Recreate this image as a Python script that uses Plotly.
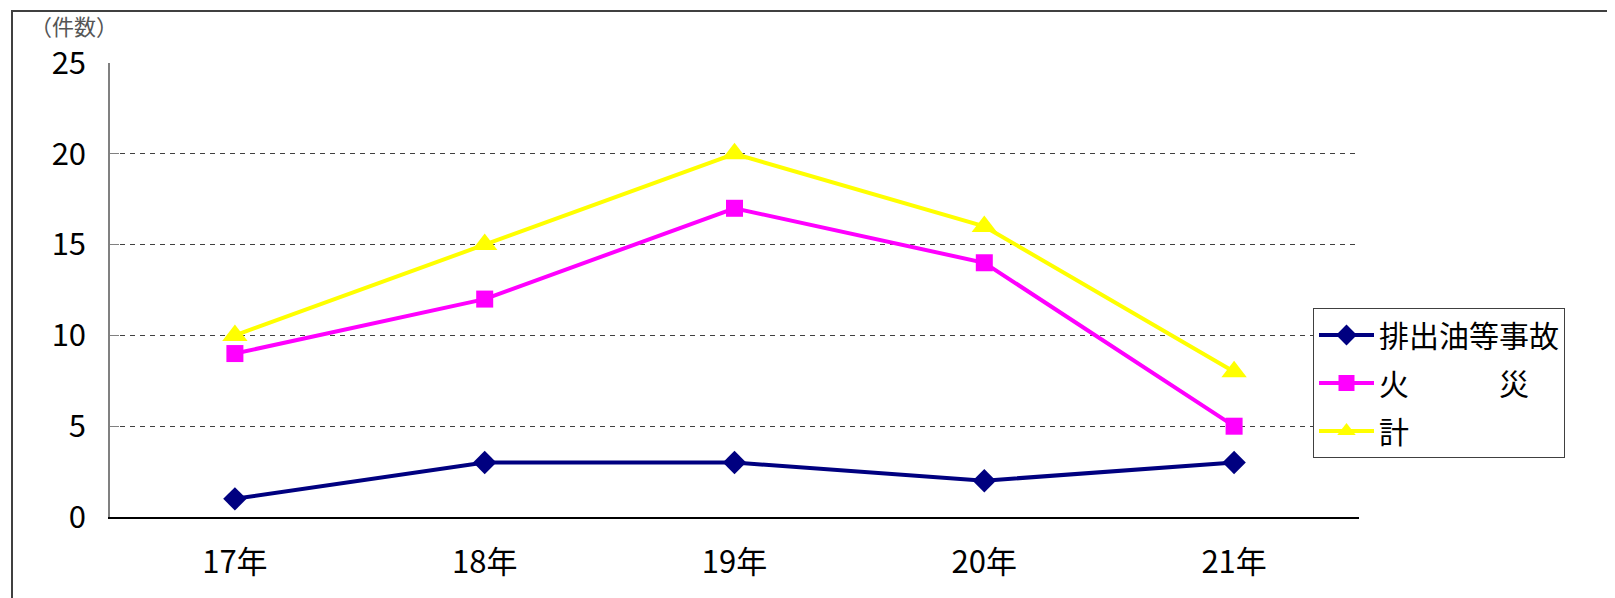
import plotly.graph_objects as go

categories = ["17年", "18年", "19年", "20年", "21年"]
oil_spill = [1, 3, 3, 2, 3]
fire = [9, 12, 17, 14, 5]
total = [10, 15, 20, 16, 8]
series_names = ["排出油等事故", "火　　　災", "計"]
y_ticks = [0, 5, 10, 15, 20, 25]
grid_ticks = [5, 10, 15, 20]

W, H = 1615, 598
OFF = 8  # default page body margin
L, R, T, B = 110 - OFF, 1359 - OFF, 63 - OFF, 517 - OFF
pw, ph = R - L, B - T

def px_x(p):
    return (p - OFF - L) / pw

def px_y(p):
    return (B - (p - OFF)) / ph

FONT = "Noto Sans CJK JP"

fig = go.Figure()
fig.add_trace(go.Scatter(x=categories, y=total, yaxis="y2", mode="markers",
                         marker=dict(opacity=0), showlegend=False, hoverinfo="skip"))
fig.add_trace(go.Scatter(x=categories, y=oil_spill, name=series_names[0], mode="lines+markers",
                         line=dict(color="#000080", width=4),
                         marker=dict(symbol="diamond", size=18, color="#000080"),
                         legendgroup="a"))
fig.add_trace(go.Scatter(x=categories, y=fire, name=series_names[1], mode="lines+markers",
                         line=dict(color="#FF00FF", width=4),
                         marker=dict(symbol="square", size=17, color="#FF00FF"),
                         legendgroup="b"))
fig.add_trace(go.Scatter(x=categories, y=total, name=series_names[2], mode="lines+markers",
                         line=dict(color="#FFFF00", width=4),
                         marker=dict(symbol="triangle-up", size=22, color="#FFFF00"),
                         legendgroup="c"))

fig.update_layout(
    width=W, height=H,
    margin=dict(l=L, r=W - R, t=T, b=H - B),
    paper_bgcolor="white", plot_bgcolor="rgba(0,0,0,0)",
    font=dict(family=FONT, size=30, color="black"),
    showlegend=True,
    legend=dict(x=px_x(1313), y=px_y(308), xanchor="left", yanchor="top",
                bgcolor="white", bordercolor="#404040", borderwidth=1,
                font=dict(size=30, family=FONT), traceorder="grouped",
                tracegroupgap=6, itemwidth=55),
    xaxis=dict(type="category", range=[-0.5, 4.5], showline=True, linecolor="black",
               linewidth=1.5, ticks="", showgrid=False, zeroline=False,
               ticklabelstandoff=17, tickfont=dict(size=31)),
    yaxis=dict(range=[0, 25], tickvals=y_ticks, showline=True, linecolor="#808080",
               linewidth=1.5, ticks="inside", ticklen=9, tickcolor="#808080",
               showgrid=False, zeroline=False, ticklabelstandoff=16,
               tickfont=dict(size=31)),
    yaxis2=dict(range=[0, 25], tickvals=grid_ticks, overlaying="y", showgrid=True,
                gridcolor="#404040", gridwidth=1, griddash="5px,5px",
                showticklabels=False, ticks="", showline=False, zeroline=False),
    annotations=[dict(text="（件数）", x=px_x(28), y=px_y(25), xref="paper", yref="paper",
                      xanchor="left", yanchor="middle", showarrow=False,
                      font=dict(size=22, color="#555555", family=FONT))],
    shapes=[dict(type="rect", xref="paper", yref="paper",
                 x0=px_x(12), x1=px_x(1640), y0=px_y(640), y1=px_y(11),
                 line=dict(color="#404040", width=2), layer="below")],
)

fig.write_html("out.html")
